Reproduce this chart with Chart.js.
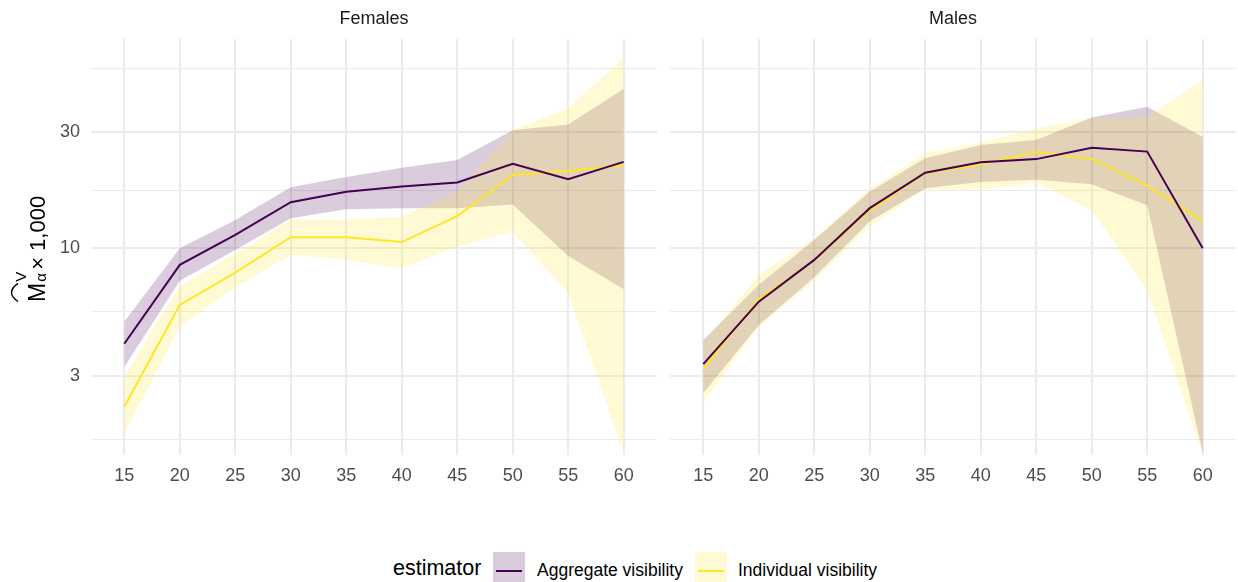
<!DOCTYPE html>
<html>
<head>
<meta charset="utf-8">
<script src="https://cdn.jsdelivr.net/npm/chart.js@4"></script>
<style>
  body { margin: 0; background: #fff; width: 1238px; height: 582px; position: relative; overflow: hidden;
         font-family: "Liberation Sans", Arial, sans-serif; }
  canvas { position: absolute; top: 0; }
  #legend { position: absolute; top: 552px; left: 0; height: 30px; }
  .lg { position: absolute; top: 3px; line-height: 30px; color: #000; white-space: nowrap; }
  .key { position: absolute; top: 0; width: 32px; height: 30px; }
  .key span { position: absolute; left: 3px; right: 3px; top: 18px; height: 2px; }
</style>
</head>
<body>
<canvas id="femalesChart" width="660" height="500" style="left:0px"></canvas>
<canvas id="malesChart" width="578" height="500" style="left:660px"></canvas>
<div id="legend">
  <div class="lg" style="left:393px;font-size:21.5px;top:1px;">estimator</div>
  <div class="key" style="left:493px;background:rgba(68,1,84,0.2)"><span style="background:#440154"></span></div>
  <div class="lg" style="left:537px;font-size:17.5px;">Aggregate visibility</div>
  <div class="key" style="left:695px;background:rgba(253,231,37,0.2)"><span style="background:#FDE725"></span></div>
  <div class="lg" style="left:738px;font-size:17.5px;">Individual visibility</div>
</div>
<script>
// ages (x categories) and y breaks
const ages = [15, 20, 25, 30, 35, 40, 45, 50, 55, 60];
const yMajor = [3, 10, 30];
const yMinor = [1.65, 5.48, 17.3, 54.8];

// Females
const femAggLine = [4.06, 8.55, 11.34, 15.44, 17.06, 17.9, 18.6, 22.2, 19.2, 22.6];
const femAggLow  = [3.25, 7.36, 9.84, 13.27, 14.45, 14.6, 14.6, 15.1, 9.3, 6.79];
const femAggHigh = [5.0, 10.0, 13.06, 17.8, 19.6, 21.4, 23.0, 30.5, 32.2, 45.0];
const femIndLine = [2.24, 5.86, 7.95, 11.1, 11.1, 10.6, 13.55, 19.96, 20.8, 21.9];
const femIndLow  = [1.72, 4.79, 6.9, 9.39, 9.0, 8.28, 10.15, 11.7, 6.56, 1.45];
const femIndHigh = [2.98, 7.0, 9.5, 13.1, 13.1, 13.5, 17.1, 30.5, 37.5, 60.1];

// Males
const malAggLine = [3.35, 6.04, 8.96, 14.6, 20.4, 22.5, 23.2, 25.8, 24.9, 10.0];
const malAggLow  = [2.55, 4.85, 7.6, 12.9, 17.6, 18.7, 19.1, 18.3, 15.0, 1.45];
const malAggHigh = [4.2, 7.08, 10.8, 17.1, 23.4, 26.5, 27.8, 34.4, 38.0, 28.6];
const malIndLine = [3.2, 6.18, 8.9, 14.3, 20.3, 22.1, 24.8, 23.2, 18.06, 12.98];
const malIndLow  = [2.35, 4.75, 7.4, 12.3, 17.4, 17.4, 18.7, 14.3, 6.74, 1.42];
const malIndHigh = [4.1, 7.77, 11.0, 17.5, 24.5, 27.1, 31.0, 34.1, 34.6, 49.0];

const purple = '#440154';
const yellow = '#FDE725';
const purpleFill = 'rgba(68,1,84,0.2)';
const yellowFill = 'rgba(253,231,37,0.2)';
const gridColor = '#ebebeb';
const fontFamily = '"Liberation Sans", Arial, sans-serif';

function pts(arr) {
  return ages.map((a, i) => ({ x: a, y: arr[i] }));
}

const stripPlugin = {
  id: 'strip',
  afterDraw(chart, args, opts) {
    const ctx = chart.ctx;
    const area = chart.chartArea;
    ctx.save();
    ctx.font = '18px ' + fontFamily;
    ctx.fillStyle = '#1a1a1a';
    ctx.textAlign = 'center';
    ctx.textBaseline = 'middle';
    ctx.fillText(opts.text, (area.left + area.right) / 2, 19);
    ctx.restore();
  }
};

// y axis title: hat(M)^V_alpha x 1,000
const yTitlePlugin = {
  id: 'yTitle',
  afterDraw(chart, args, opts) {
    if (!opts.show) return;
    const ctx = chart.ctx;
    ctx.save();
    ctx.translate(45, 302);
    ctx.rotate(-Math.PI / 2);
    ctx.fillStyle = '#000';
    ctx.strokeStyle = '#000';
    ctx.textBaseline = 'alphabetic';
    ctx.font = '23px ' + fontFamily;
    ctx.fillText('M', 0, 0);
    const mw = ctx.measureText('M').width;
    // hat
    ctx.lineWidth = 1.4;
    ctx.beginPath();
    ctx.moveTo(0.5, -27);
    ctx.quadraticCurveTo(mw / 2, -40, mw - 0.5, -27);
    ctx.stroke();
    ctx.font = '15px ' + fontFamily;
    ctx.fillText('V', mw + 1, -19);
    ctx.fillText('\u03B1', mw + 1, 1);
    ctx.font = '22px ' + fontFamily;
    ctx.fillText('\u00D7 1,000', mw + 13, 0);
    ctx.restore();
  }
};

function makePanel(id, title, series, showY) {
  const ctx = document.getElementById(id).getContext('2d');
  return new Chart(ctx, {
    type: 'line',
    data: {
      datasets: [
        { data: pts(series.aggLine), borderColor: purple, borderWidth: 2, pointRadius: 0, fill: false, tension: 0 },
        { data: pts(series.indLine), borderColor: yellow, borderWidth: 2, pointRadius: 0, fill: false, tension: 0 },
        { data: pts(series.indHigh), borderWidth: 0, borderColor: 'rgba(0,0,0,0)', pointRadius: 0, backgroundColor: yellowFill, fill: '+1' },
        { data: pts(series.indLow), borderWidth: 0, borderColor: 'rgba(0,0,0,0)', pointRadius: 0, fill: false },
        { data: pts(series.aggHigh), borderWidth: 0, borderColor: 'rgba(0,0,0,0)', pointRadius: 0, backgroundColor: purpleFill, fill: '+1' },
        { data: pts(series.aggLow), borderWidth: 0, borderColor: 'rgba(0,0,0,0)', pointRadius: 0, fill: false }
      ]
    },
    options: {
      responsive: false,
      animation: false,
      devicePixelRatio: 1,
      layout: { padding: { top: 39, right: showY ? 3 : 2, left: 0, bottom: 0 } },
      plugins: {
        legend: { display: false },
        tooltip: { enabled: false },
        strip: { text: title },
        yTitle: { show: showY }
      },
      scales: {
        x: {
          type: 'linear',
          min: 12,
          max: 63,
          afterBuildTicks: s => { s.ticks = ages.map(v => ({ value: v })); },
          afterFit: s => { s.height = 45; },
          grid: { color: gridColor, lineWidth: 2, drawTicks: false },
          border: { display: false },
          ticks: { color: '#4d4d4d', font: { size: 18, family: fontFamily }, padding: 10, maxRotation: 0 }
        },
        y: {
          type: 'logarithmic',
          min: 1.42,
          max: 72.1,
          afterBuildTicks: s => {
            s.ticks = yMinor.concat(yMajor).sort((a, b) => a - b).map(v => ({ value: v }));
          },
          afterFit: s => { s.width = showY ? 91 : 10; },
          grid: {
            color: gridColor,
            drawTicks: false,
            lineWidth: c => (yMajor.includes(c.tick && c.tick.value) ? 2 : 1)
          },
          border: { display: false },
          ticks: {
            display: showY,
            color: '#4d4d4d',
            font: { size: 18, family: fontFamily },
            padding: 11,
            autoSkip: false,
            callback: v => (yMajor.includes(v) ? String(v) : '')
          }
        }
      }
    },
    plugins: [stripPlugin, yTitlePlugin]
  });
}

makePanel('femalesChart', 'Females', {
  aggLine: femAggLine, aggLow: femAggLow, aggHigh: femAggHigh,
  indLine: femIndLine, indLow: femIndLow, indHigh: femIndHigh
}, true);

makePanel('malesChart', 'Males', {
  aggLine: malAggLine, aggLow: malAggLow, aggHigh: malAggHigh,
  indLine: malIndLine, indLow: malIndLow, indHigh: malIndHigh
}, false);
</script>
</body>
</html>
